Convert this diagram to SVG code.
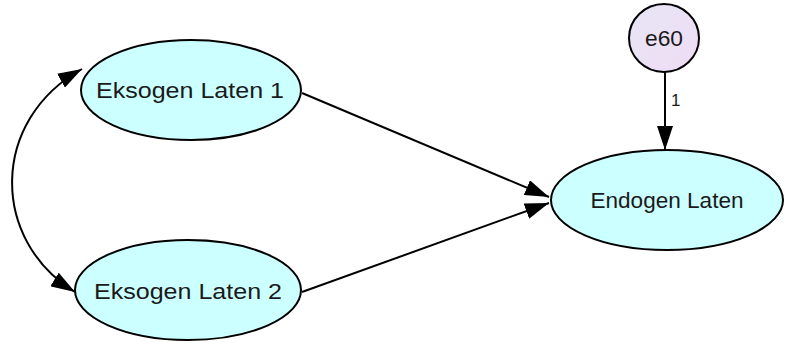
<svg xmlns="http://www.w3.org/2000/svg" width="785" height="345" viewBox="0 0 785 345">
<style>
.node{fill:#ccffff;stroke:#000;stroke-width:2}
.lbl{font-family:"Liberation Sans",Arial,sans-serif;font-size:22px;fill:#1a1a1a;text-anchor:middle;dominant-baseline:central}
.edge{fill:none;stroke:#000;stroke-width:2}
.small{font-family:"Liberation Sans",Arial,sans-serif;font-size:17px;fill:#1a1a1a}
</style>
<defs>
<marker id="ahb" viewBox="0 0 24 16" refX="24" refY="8" markerWidth="24" markerHeight="16" markerUnits="userSpaceOnUse" orient="auto-start-reverse">
<path d="M0,0 L24,8 L0,16 Z" fill="#000"/>
</marker>
<linearGradient id="eg" x1="0" y1="0" x2="1" y2="1">
<stop offset="0" stop-color="#e6e6f5"/>
<stop offset="1" stop-color="#f0dcf5"/>
</linearGradient>
</defs>
<rect width="785" height="345" fill="#fff"/>
<g id="connectors">
<path class="edge" d="M302,93 L549,197" marker-end="url(#ahb)"/>
<path class="edge" d="M302,292 L549,203" marker-end="url(#ahb)"/>
<path class="edge" d="M665,72 L665,150" marker-end="url(#ahb)"/>
<path class="edge" d="M82,69 C-10,120 -10,240 75,292" marker-start="url(#ahb)" marker-end="url(#ahb)"/>
<text class="small" x="671" y="106">1</text>
</g>
<g id="ek1">
<ellipse class="node" cx="191" cy="90" rx="110" ry="50"/>
<text class="lbl" x="190" y="90" textLength="188" lengthAdjust="spacingAndGlyphs">Eksogen Laten 1</text>
</g>
<g id="ek2">
<ellipse class="node" cx="188" cy="290" rx="113" ry="50"/>
<text class="lbl" x="188" y="291" textLength="188" lengthAdjust="spacingAndGlyphs">Eksogen Laten 2</text>
</g>
<g id="endo">
<ellipse class="node" cx="667" cy="200" rx="116" ry="50"/>
<text class="lbl" x="667" y="200" textLength="153" lengthAdjust="spacingAndGlyphs">Endogen Laten</text>
</g>
<g id="e60">
<ellipse cx="664" cy="38" rx="35" ry="34" fill="url(#eg)" stroke="#000" stroke-width="2"/>
<text class="lbl" x="664" y="38" textLength="38" lengthAdjust="spacingAndGlyphs">e60</text>
</g>
</svg>
